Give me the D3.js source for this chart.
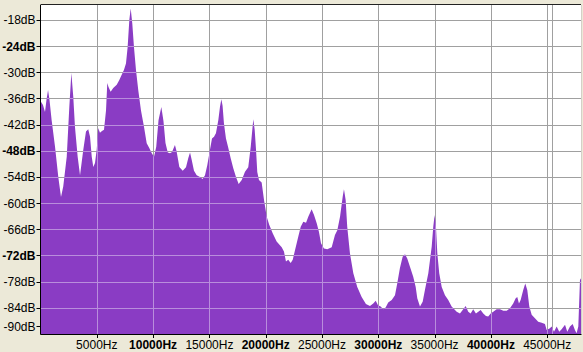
<!DOCTYPE html>
<html>
<head>
<meta charset="utf-8">
<script src="https://cdn.jsdelivr.net/npm/d3@7"></script>
<style>
html,body{margin:0;padding:0;background:#ece9d8;}
svg{display:block;}
text{font-family:"Liberation Sans",Arial,sans-serif;font-size:12px;fill:#000;}
</style>
</head>
<body>
<svg id="chart" width="583" height="352"></svg>
<script>
// ---- data (frequency in Hz, level in dB) ----
const freqs = [0,220,400,530,670,800,990,1290,1580,1820,2020,2330,2560,2740,2910,3060,3300,3510,3800,4040,
 4240,4400,4550,4690,4840,4990,5130,5280,5460,5640,5820,5930,6040,6230,6460,6770,7000,7210,7410,7590,
 7740,7890,8010,8150,8300,8480,8680,8920,9190,9430,9660,9870,10080,10280,10480,10730,10920,11100,11300,11500,
 11680,11940,12090,12330,12630,12920,13120,13280,13430,13630,13870,14160,14400,14610,14810,15050,15230,15410,15580,15790,
 15940,16060,16170,16290,16470,16680,16890,17120,17360,17600,17870,18160,18450,18670,18810,18900,19020,19140,19250,19400,
 19640,19850,20090,20320,20620,20970,21420,21620,21800,22000,22220,22400,22600,22890,23110,23340,23580,23780,24080,24290,
 24530,24730,24910,25170,25470,25860,26150,26360,26600,26840,26950,27100,27240,27480,27780,28130,28520,28900,29260,29550,
 29770,29970,30210,30440,30650,30880,31190,31480,31680,31920,32160,32370,32570,32810,33100,33320,33460,33700,33940,34140,
 34440,34740,34880,35000,35120,35240,35410,35630,35920,36210,36510,36960,37250,37490,37760,37990,38200,38430,38670,38880,
 39090,39320,39560,39760,39980,40210,40510,40800,41100,41400,41690,41980,42200,42340,42490,42640,42870,43050,43230,43410,
 43620,43910,44200,44510,44800,44950,45240,45390,45600,45840,46070,46280,46580,46780,47020,47260,47460,47610,47760,47910,48000];
const levels = [-36.6,-37.5,-39.1,-36.4,-34.1,-36.4,-41.0,-47.1,-54.0,-58.6,-56.2,-49.4,-37.9,-30.2,-35.6,-42.5,-49.4,-53.6,-47.8,-43.6,
 -43.1,-44.8,-49.4,-51.7,-50.8,-47.8,-42.8,-43.9,-43.5,-43.2,-38.7,-32.5,-33.4,-34.5,-33.6,-32.9,-31.8,-30.6,-29.5,-28.0,
 -24.2,-18.0,-15.4,-18.8,-24.2,-29.5,-34.1,-38.7,-42.5,-46.3,-47.4,-48.5,-49.4,-47.1,-41.0,-38.0,-41.2,-46.2,-48.4,-48.6,
 -48.3,-46.7,-48.2,-51.7,-52.6,-51.8,-49.7,-48.4,-50.1,-52.6,-53.6,-54.0,-54.5,-53.6,-51.3,-47.8,-45.2,-44.8,-44.0,-41.0,
 -37.9,-36.2,-37.7,-41.7,-45.2,-47.4,-49.7,-52.0,-54.0,-55.6,-54.7,-52.8,-51.8,-47.1,-43.2,-40.8,-43.2,-47.8,-52.9,-54.7,
 -55.3,-59.3,-63.1,-65.0,-66.9,-68.8,-70.1,-71.1,-73.4,-73.0,-73.7,-73.0,-70.8,-67.7,-65.4,-64.3,-64.5,-63.1,-61.4,-62.7,
 -64.6,-66.6,-69.2,-70.4,-70.6,-70.1,-67.3,-66.2,-63.1,-58.5,-56.8,-59.3,-65.4,-71.5,-76.1,-79.2,-81.5,-83.1,-83.6,-83.0,
 -82.4,-83.4,-83.7,-84.3,-83.9,-82.8,-82.2,-81.1,-78.4,-74.9,-72.3,-71.7,-72.7,-74.6,-76.9,-79.2,-81.8,-83.7,-82.6,-79.9,
 -76.1,-70.0,-65.4,-62.7,-65.4,-71.5,-76.1,-79.2,-81.1,-82.2,-83.7,-84.9,-85.3,-84.5,-83.6,-84.9,-85.3,-84.3,-85.3,-84.9,
 -84.5,-85.3,-85.9,-86.0,-85.3,-84.9,-84.3,-84.3,-84.7,-84.7,-84.1,-83.0,-81.8,-81.5,-83.0,-82.2,-79.9,-78.4,-79.9,-83.7,
 -85.6,-86.4,-87.2,-87.4,-87.7,-89.1,-88.7,-88.3,-89.5,-88.3,-89.5,-88.9,-87.9,-89.5,-88.3,-87.7,-89.1,-89.8,-88.3,-77.6,-77.2];

const xTicks = [5000,10000,15000,20000,25000,30000,35000,40000,45000];
const xBold = [10000,20000,30000,40000];
const extraXLines = [45450];
const yTicks = [-18,-24,-30,-36,-42,-48,-54,-60,-66,-72,-78,-84,-90];
const yBold = [-24,-48,-72];
const yGridTicks = [-18,-24,-30,-36,-42,-48,-54,-60,-66,-72,-78,-84];

// ---- layout ----
const L = 40.5, R = 581, T = 5, B = 334;
const x = d3.scaleLinear().domain([0, 48000]).range([L, R]);
const y = d3.scaleLinear().domain([-90, -14.6]).range([B, T]);
const data = freqs.map((f, i) => ({f, v: levels[i]}));

const svg = d3.select("#chart");
svg.append("rect").attr("x", L).attr("y", T).attr("width", R - L).attr("height", B - T).attr("fill", "#fff");

const area = d3.area().x(d => x(d.f)).y0(B).y1(d => y(d.v));

function drawGrid(g, color) {
  g.selectAll("line.h").data(yGridTicks).join("line").attr("class","h")
    .attr("x1", L).attr("x2", R)
    .attr("y1", d => Math.round(y(d)) + 0.5).attr("y2", d => Math.round(y(d)) + 0.5)
    .attr("stroke", color).attr("stroke-width", 1);
  g.selectAll("line.v").data(xTicks.concat(extraXLines)).join("line").attr("class","v")
    .attr("y1", T).attr("y2", B)
    .attr("x1", d => Math.round(x(d)) + 0.5).attr("x2", d => Math.round(x(d)) + 0.5)
    .attr("stroke", color).attr("stroke-width", 1);
}

drawGrid(svg.append("g"), "#a0a0a0");

svg.append("defs").append("clipPath").attr("id","areaClip")
  .append("path").attr("d", area(data));

svg.append("path").attr("d", area(data)).attr("fill", "#8a3cc4");

drawGrid(svg.append("g").attr("clip-path","url(#areaClip)"), "#b98ddc");

// frame
svg.append("line").attr("x1", L).attr("x2", L).attr("y1", T).attr("y2", B + 0.5).attr("stroke", "#000");
svg.append("line").attr("x1", L).attr("x2", R).attr("y1", T - 0.5).attr("y2", T - 0.5).attr("stroke", "#222");
svg.append("line").attr("x1", L).attr("x2", R + 0.5).attr("y1", B + 0.5).attr("y2", B + 0.5).attr("stroke", "#000");
svg.append("line").attr("x1", R + 0.5).attr("x2", R + 0.5).attr("y1", T).attr("y2", B).attr("stroke", "#d4d0c8");

// y axis labels
const yPos = v => Math.min(y(v), B - 8);
const yg = svg.append("g");
yg.selectAll("line").data(yTicks).join("line")
  .attr("x1", L - 4).attr("x2", L)
  .attr("y1", d => Math.round(yPos(d)) + 0.5).attr("y2", d => Math.round(yPos(d)) + 0.5)
  .attr("stroke", "#000");
yg.selectAll("text").data(yTicks).join("text")
  .attr("x", L - 5).attr("y", d => yPos(d) + 4.5)
  .attr("text-anchor", "end")
  .attr("font-weight", d => yBold.includes(d) ? "bold" : "normal")
  .text(d => d + "dB");

// x axis labels
const xg = svg.append("g");
xg.selectAll("line").data(xTicks).join("line")
  .attr("x1", d => Math.round(x(d)) + 0.5).attr("x2", d => Math.round(x(d)) + 0.5)
  .attr("y1", B).attr("y2", B + 4).attr("stroke", "#000");
xg.selectAll("text").data(xTicks).join("text")
  .attr("x", d => x(d)).attr("y", 349)
  .attr("text-anchor", "middle")
  .attr("font-weight", d => xBold.includes(d) ? "bold" : "normal")
  .text(d => d + "Hz");
</script>
</body>
</html>
